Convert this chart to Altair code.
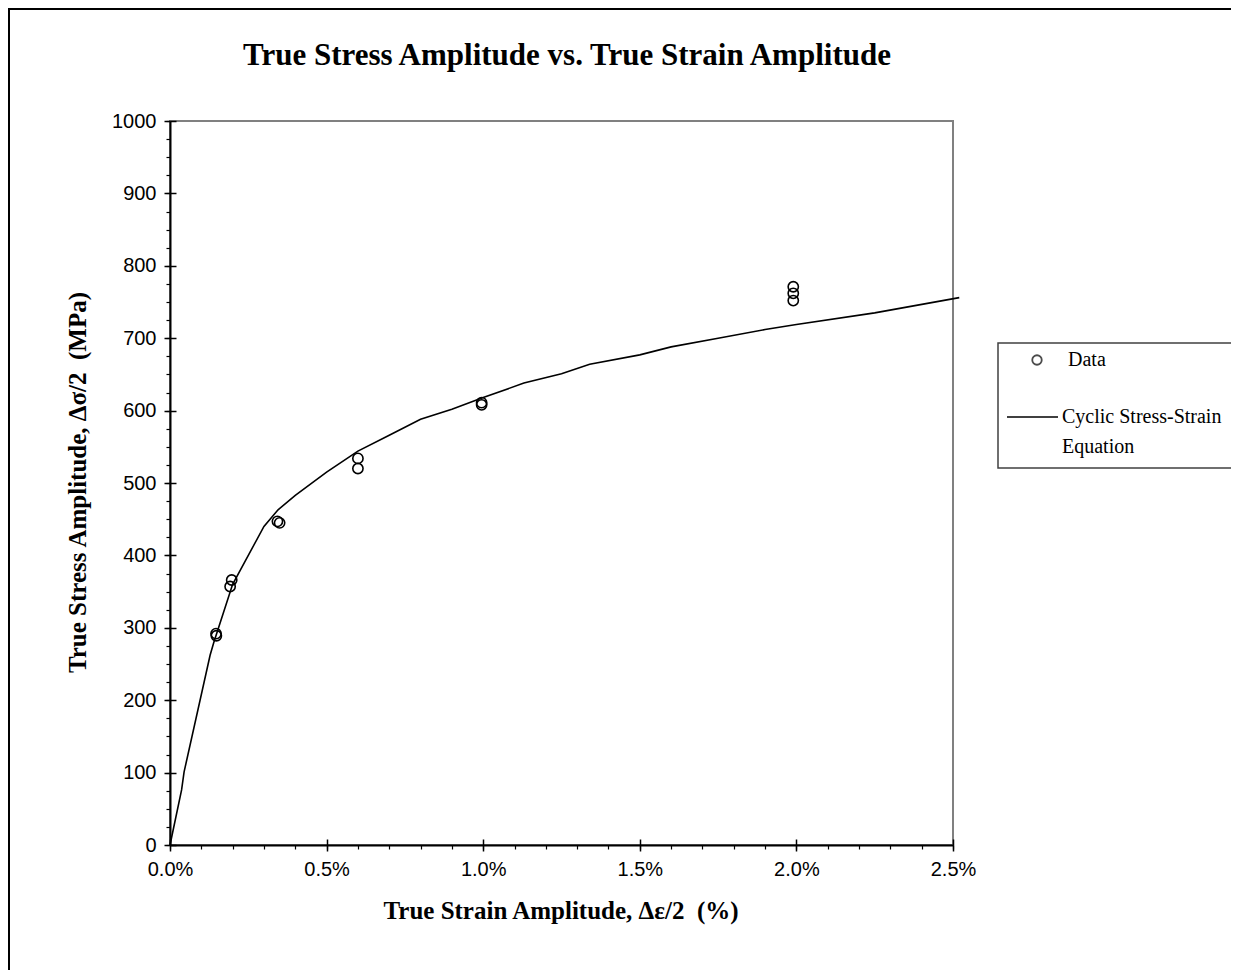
import altair as alt
import pandas as pd

TITLE = "True Stress Amplitude vs. True Strain Amplitude"
X_TITLE = "True Strain Amplitude, Δε/2 \u00a0(%)"
Y_TITLE = "True Stress Amplitude, Δσ/2 \u00a0(MPa)"
LEGEND_DATA = "Data"
LEGEND_LINE_1 = "Cyclic Stress-Strain"
LEGEND_LINE_2 = "Equation"

# measured data points (strain in %, stress in MPa)
data_strain = [0.147, 0.148, 0.192, 0.197, 0.343, 0.35, 0.60, 0.60, 0.995, 0.995, 1.99, 1.99, 1.99]
data_stress = [292, 289, 357, 366, 447, 445, 534, 520, 611, 608, 771, 762, 752]

# cyclic stress-strain curve as drawn
curve_strain = [0.0, 0.037, 0.045, 0.128, 0.14, 0.2, 0.25, 0.3, 0.345, 0.4, 0.5, 0.6, 0.7,
                0.8, 0.9, 1.0, 1.13, 1.25, 1.34, 1.5, 1.6, 1.75, 1.9, 2.0, 2.25, 2.52]
curve_stress = [0, 76, 101, 262, 280, 360, 400, 440, 463, 483, 515, 544, 566,
                588, 602, 618, 638, 651, 664, 677, 688, 700, 712, 719, 735, 756]

x_major = [0.0, 0.5, 1.0, 1.5, 2.0, 2.5]
x_minor = [0.0, 0.1, 0.2, 0.3, 0.4, 0.5, 0.6, 0.7, 0.8, 0.9, 1.0, 1.1, 1.2, 1.3,
           1.4, 1.5, 1.6, 1.7, 1.8, 1.9, 2.0, 2.1, 2.2, 2.3, 2.4, 2.5]
y_major = [0, 100, 200, 300, 400, 500, 600, 700, 800, 900, 1000]
y_minor = [0, 25, 50, 75, 100, 125, 150, 175, 200, 225, 250, 275, 300, 325, 350, 375,
           400, 425, 450, 475, 500, 525, 550, 575, 600, 625, 650, 675, 700, 725, 750,
           775, 800, 825, 850, 875, 900, 925, 950, 975, 1000]

W, H = 783, 724
SERIF = "Liberation Serif"
SANS = "Liberation Sans"

pts = pd.DataFrame({"strain": data_strain, "stress": data_stress})
curve = pd.DataFrame({"strain": curve_strain, "stress": curve_stress})
one = pd.DataFrame({"k": [0]})

xs = alt.Scale(domain=[0, 2.5], nice=False, zero=False)
ys = alt.Scale(domain=[0, 1000], nice=False, zero=False)

line = alt.Chart(curve).mark_line(color="black", strokeWidth=1.6).encode(
    x=alt.X("strain:Q", scale=xs, axis=alt.Axis(
        orient="bottom", values=x_major, labelExpr="format(datum.value, '.1f') + '%'",
        tickSize=6, tickColor="black", tickWidth=1.5, domainColor="black", domainWidth=2,
        labelFont=SANS, labelFontSize=20, labelColor="black", labelPadding=8,
        labelFlush=False, labelOverlap=False, grid=False,
        title=X_TITLE, titleFont=SERIF, titleFontSize=25, titleFontWeight="bold",
        titleColor="black", titleX=W / 2 - 1, titleY=65, titleBaseline="middle")),
    y=alt.Y("stress:Q", scale=ys, axis=alt.Axis(
        orient="left", values=y_major, format="d", tickSize=6, tickColor="black", tickWidth=1.5,
        domainColor="black", domainWidth=2,
        labelFont=SANS, labelFontSize=20, labelColor="black", labelPadding=8,
        labelFlush=False, labelOverlap=False, grid=False,
        title=Y_TITLE, titleFont=SERIF, titleFontSize=25, titleFontWeight="bold",
        titleColor="black", titleX=-93, titleY=H / 2 - 1, titleBaseline="middle")),
)

minor = alt.Chart(pts).mark_point(opacity=0).encode(
    x=alt.X("strain:Q", scale=xs, axis=alt.Axis(
        orient="bottom", values=x_minor, tickSize=4, tickColor="black", tickWidth=1.2,
        domain=False, labels=False, grid=False, title=None)),
    y=alt.Y("stress:Q", scale=ys, axis=alt.Axis(
        orient="left", values=y_minor, tickSize=4, tickColor="black", tickWidth=1.2,
        domain=False, labels=False, grid=False, title=None)),
)

inner = alt.Chart(pts).mark_point(opacity=0).encode(
    x=alt.X("strain:Q", scale=xs, axis=alt.Axis(
        orient="bottom", values=x_major, tickSize=6, offset=-6, tickColor="black", tickWidth=1.5,
        domain=False, labels=False, grid=False, title=None)),
    y=alt.Y("stress:Q", scale=ys, axis=alt.Axis(
        orient="left", values=y_major, tickSize=6, offset=-6, tickColor="black", tickWidth=1.5,
        domain=False, labels=False, grid=False, title=None)),
)

points = alt.Chart(pts).mark_point(
    shape="circle", filled=False, color="black", size=105, strokeWidth=1.6, opacity=1
).encode(x=alt.X("strain:Q", scale=xs, axis=None), y=alt.Y("stress:Q", scale=ys, axis=None))

# decorations: outer frame, title, legend
frame = alt.Chart(one).mark_rect(fillOpacity=0, stroke="black", strokeWidth=2).encode(
    x=alt.value(-161), x2=alt.value(1200), y=alt.value(-112), y2=alt.value(950))

title = alt.Chart(one).mark_text(
    font=SERIF, fontSize=31, fontWeight="bold", color="black", align="center", baseline="middle"
).encode(x=alt.value(397), y=alt.value(-65), text=alt.value(TITLE))

leg_box = alt.Chart(one).mark_rect(fill="white", stroke="#404040", strokeWidth=1.5).encode(
    x=alt.value(828), x2=alt.value(1200), y=alt.value(222), y2=alt.value(347))
leg_pt = alt.Chart(one).mark_point(shape="circle", filled=False, color="black", size=90,
                                   strokeWidth=1.8).encode(x=alt.value(867), y=alt.value(239))
leg_line = alt.Chart(one).mark_rule(color="black", strokeWidth=1.6).encode(
    x=alt.value(837), x2=alt.value(888), y=alt.value(296))
leg_txt_style = dict(font=SERIF, fontSize=20, color="black", align="left", baseline="middle")
leg_t1 = alt.Chart(one).mark_text(**leg_txt_style).encode(
    x=alt.value(898), y=alt.value(239), text=alt.value(LEGEND_DATA))
leg_t2 = alt.Chart(one).mark_text(**leg_txt_style).encode(
    x=alt.value(892), y=alt.value(296), text=alt.value(LEGEND_LINE_1))
leg_t3 = alt.Chart(one).mark_text(**leg_txt_style).encode(
    x=alt.value(892), y=alt.value(326), text=alt.value(LEGEND_LINE_2))

chart = alt.layer(
    frame, line, minor, inner, points, title, leg_box, leg_pt, leg_line, leg_t1, leg_t2, leg_t3
).resolve_scale(x="independent", y="independent").resolve_axis(
    x="independent", y="independent"
).properties(
    width=W, height=H,
    autosize=alt.AutoSizeParams(type="none"),
    padding={"left": 162, "top": 113, "right": 278, "bottom": 125},
).configure(background="white").configure_view(stroke="#808080", strokeWidth=2)

chart.save("out.html", embed_options={"renderer": "svg", "actions": False})
